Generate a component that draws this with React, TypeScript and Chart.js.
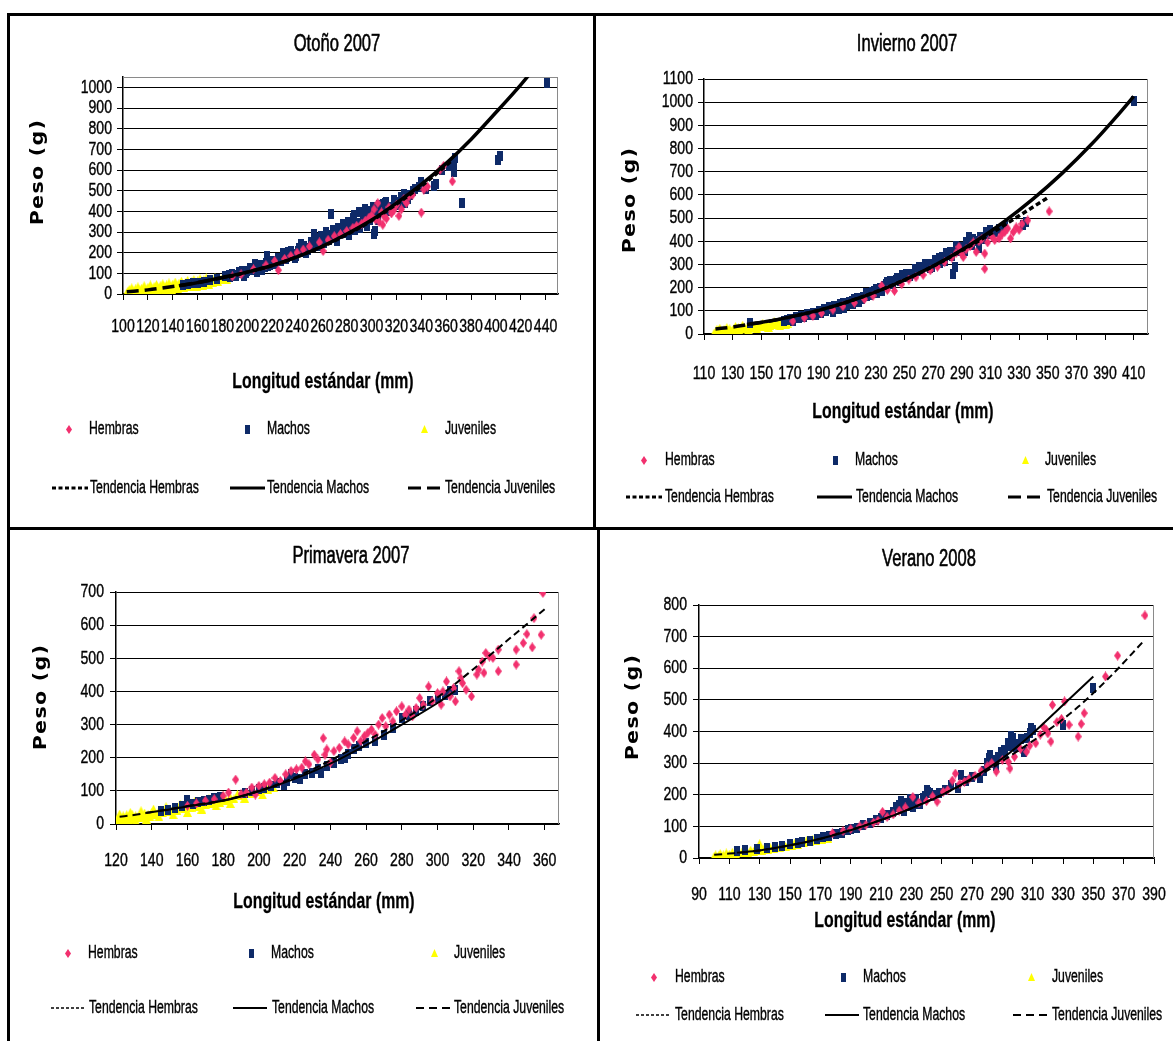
import React, { useEffect, useRef } from 'react';
import { Chart, registerables } from 'chart.js';
Chart.register(...registerables);

type Pt = [number, number];

// ---------- Otoño 2007 ----------
const otonoHembras: Pt[] = [[188,85],[195,95],[205,120],[215,140],[222,160],[225,115],[230,170],[235,185],[240,200],[245,215],[250,230],[258,250],[261,208],[265,262],[270,280],[275,290],[280,305],[285,320],[288,330],[292,340],[295,355],[298,370],[300,380],[302,410],[303,360],[305,440],[306,350],[308,395],[309,335],[310,375],[312,365],[314,420],[316,390],[318,405],[320,430],[322,378],[324,410],[326,460],[328,440],[330,470],[333,480],[340,394],[342,505],[345,520],[355,600],[358,620],[365,545]];
const otonoMachos: Pt[] = [[148,42],[152,48],[156,55],[160,52],[165,60],[170,68],[176,75],[182,85],[185,90],[186,80],[188,95],[190,92],[191,88],[193,105],[194,100],[196,112],[197,88],[199,100],[200,110],[202,125],[203,118],[205,115],[206,143],[207,130],[208,105],[210,140],[211,125],[212,118],[214,133],[215,150],[216,184],[217,135],[218,140],[219,160],[221,150],[222,145],[224,160],[225,175],[226,172],[227,160],[229,200],[230,185],[231,168],[232,178],[233,205],[235,210],[236,190],[237,195],[238,175],[239,185],[241,210],[242,225],[243,240],[244,205],[245,225],[246,230],[247,200],[248,222],[249,215],[251,250],[252,238],[253,228],[254,289],[255,270],[256,250],[257,240],[258,230],[259,280],[260,265],[261,255],[262,245],[263,300],[265,285],[266,260],[267,385],[268,270],[269,310],[270,300],[271,280],[272,255],[273,320],[274,290],[275,300],[276,310],[277,340],[278,295],[279,305],[280,320],[281,350],[282,285],[283,320],[284,335],[285,370],[286,380],[287,310],[288,330],[289,345],[290,395],[291,320],[292,345],[293,360],[294,375],[295,410],[296,330],[297,400],[298,380],[299,360],[300,390],[301,420],[302,290],[303,305],[304,395],[305,360],[306,430],[307,420],[308,400],[309,434],[311,440],[312,445],[313,400],[315,410],[316,420],[318,455],[320,445],[322,430],[324,470],[326,485],[327,442],[329,460],[331,480],[333,500],[335,510],[338,520],[340,540],[344,506],[350,523],[352,530],[357,600],[362,620],[366,640],[366,590],[367,660],[373,442],[402,650],[403,670],[441,1020]];
const otonoJuveniles: Pt[] = [[103,4],[104,14],[105,22],[106,8],[107,30],[108,16],[109,5],[110,25],[111,12],[112,35],[113,20],[114,8],[115,28],[116,15],[117,40],[118,22],[119,10],[120,32],[121,18],[122,44],[123,26],[124,12],[125,36],[126,22],[127,46],[128,30],[129,15],[130,40],[131,25],[132,50],[133,34],[134,18],[135,44],[136,28],[137,54],[138,38],[139,22],[140,48],[141,32],[142,58],[143,40],[144,26],[145,52],[146,36],[147,62],[148,45],[149,30],[150,56],[151,40],[152,66],[153,48],[154,34],[155,60],[156,44],[157,70],[158,52],[159,38],[160,64],[161,48],[162,74],[163,56],[164,42],[165,68],[166,52],[167,78],[168,60],[169,46],[170,72],[172,56],[174,80],[176,62],[178,70],[180,76],[183,72]];
const otonoTrendM: Pt[] = [[145,40],[160,55],[180,80],[200,106],[220,138],[240,180],[260,230],[280,290],[300,358],[320,440],[340,530],[360,632],[380,748],[400,878],[420,1012],[430,1085]];
const otonoTrendH: Pt[] = [[185,82],[200,106],[220,138],[240,180],[260,228],[280,287],[300,355],[320,435],[340,522],[365,648]];
const otonoTrendJ: Pt[] = [[103,11],[120,20],[140,36],[160,55],[185,85]];
const otonoXTicks = [100,120,140,160,180,200,220,240,260,280,300,320,340,360,380,400,420,440];
const otonoYTicks = [0,100,200,300,400,500,600,700,800,900,1000];

// ---------- Invierno 2007 ----------
const inviernoHembras: Pt[] = [[172,55],[180,70],[186,78],[192,90],[200,105],[207,120],[215,135],[222,150],[228,165],[234,208],[238,190],[243,186],[248,215],[253,235],[258,245],[263,255],[268,275],[273,290],[278,310],[283,330],[286,350],[288,376],[290,345],[291,332],[293,365],[296,380],[298,395],[300,354],[302,400],[304,410],[306,347],[306,281],[308,395],[311,420],[313,405],[316,412],[318,430],[320,440],[322,455],[324,412],[326,440],[328,460],[330,449],[332,475],[336,490],[351,529]];
const inviernoMachos: Pt[] = [[142,48],[166,55],[168,62],[170,65],[172,58],[174,72],[176,68],[178,78],[180,72],[182,85],[184,80],[186,92],[188,84],[190,98],[192,90],[194,108],[195,100],[197,115],[198,106],[200,95],[201,122],[203,120],[204,110],[205,130],[207,135],[208,114],[210,125],[211,140],[213,143],[214,130],[215,150],[217,155],[218,140],[220,150],[221,160],[223,175],[224,165],[226,170],[227,182],[229,186],[230,195],[231,175],[233,200],[234,185],[236,205],[237,215],[238,225],[240,230],[241,220],[242,215],[244,235],[245,240],[247,230],[248,255],[250,248],[251,260],[252,245],[254,250],[255,260],[257,280],[258,270],[260,288],[261,270],[262,275],[264,300],[265,295],[267,300],[268,285],[269,288],[271,320],[272,310],[274,330],[275,305],[276,332],[278,315],[279,350],[280,340],[282,355],[283,335],[284,259],[285,290],[286,380],[287,365],[289,360],[290,375],[292,360],[293,395],[295,420],[297,385],[298,410],[300,400],[302,369],[303,420],[305,410],[307,440],[308,430],[310,449],[313,440],[316,455],[320,465],[333,470],[335,485],[410,1005]];
const inviernoJuveniles: Pt[] = [[117,3],[118,5],[119,10],[119,20],[120,15],[121,8],[121,25],[122,12],[123,6],[124,18],[125,10],[126,28],[127,14],[128,22],[129,9],[130,16],[131,25],[132,33],[133,19],[134,28],[135,12],[136,22],[137,38],[138,30],[140,25],[141,18],[142,33],[143,42],[144,28],[146,36],[147,22],[148,31],[150,38],[151,46],[152,34],[154,42],[155,28],[156,37],[158,45],[159,52],[160,40],[162,48],[163,35],[164,44],[165,55],[166,50],[167,40],[168,46]];
const inviernoTrendM: Pt[] = [[140,41],[160,61],[180,87],[200,119],[220,159],[240,206],[260,262],[280,327],[300,401],[320,487],[340,584],[360,693],[380,815],[400,952],[410,1025]];
const inviernoTrendH: Pt[] = [[170,74],[190,102],[210,138],[230,182],[250,233],[270,292],[290,360],[310,432],[330,510],[350,588]];
const inviernoTrendJ: Pt[] = [[118,22],[130,30],[140,40],[150,50],[160,60],[168,70]];
const inviernoXTicks = [110,130,150,170,190,210,230,250,270,290,310,330,350,370,390,410];
const inviernoYTicks = [0,100,200,300,400,500,600,700,800,900,1000,1100];

// ---------- Primavera 2007 ----------
const primaveraHembras: Pt[] = [[160,55],[165,62],[170,70],[175,75],[180,85],[183,95],[187,134],[190,90],[193,95],[196,110],[198,89],[200,115],[203,120],[206,125],[209,139],[212,130],[215,150],[218,160],[221,165],[224,170],[226,189],[228,180],[231,209],[233,195],[236,259],[237,209],[238,225],[240,185],[242,220],[245,230],[248,249],[250,240],[253,260],[255,280],[257,250],[259,265],[261,275],[263,285],[265,270],[267,300],[269,320],[271,295],[273,330],[275,310],[277,340],[280,355],[282,330],[284,345],[286,325],[288,350],[290,380],[292,360],[295,415],[297,370],[300,395],[302,360],[303,400],[305,430],[307,385],[309,410],[310,370],[312,461],[313,440],[314,425],[316,405],[319,385],[322,451],[323,466],[325,490],[326,456],[327,516],[329,505],[331,501],[334,461],[334,526],[344,481],[344,526],[348,546],[350,573],[353,533],[354,621],[358,571],[359,697]];
const primaveraMachos: Pt[] = [[145,40],[149,43],[153,48],[157,55],[160,73],[163,60],[166,65],[169,70],[172,73],[175,78],[178,82],[192,95],[196,100],[200,105],[203,109],[207,115],[210,125],[214,119],[216,129],[218,150],[220,140],[223,135],[226,150],[230,154],[233,165],[235,154],[238,175],[242,185],[246,195],[248,199],[250,210],[253,225],[256,235],[260,245],[265,249],[270,270],[275,290],[280,320],[284,330],[288,340],[292,355],[296,370],[300,380],[304,390],[307,400],[310,405]];
const primaveraJuveniles: Pt[] = [[121,12],[122,20],[122,30],[123,15],[124,25],[125,18],[125,8],[126,28],[127,14],[128,22],[128,35],[129,30],[130,18],[131,25],[131,10],[133,20],[134,30],[134,40],[135,24],[136,33],[137,15],[138,28],[139,22],[140,35],[141,45],[142,30],[144,38],[144,22],[146,34],[148,42],[148,52],[150,38],[152,46],[152,28],[154,42],[156,50],[156,60],[158,46],[160,55],[160,35],[162,50],[164,58],[164,68],[166,54],[168,62],[168,45],[170,58],[172,66],[172,76],[174,62],[176,70],[176,55],[178,66],[180,74],[180,85],[182,70],[184,80],[184,62],[186,76],[188,90],[190,85],[192,78],[195,92],[197,100],[200,98],[202,88],[205,105],[206,115],[208,110]];
const primaveraTrendM: Pt[] = [[137,34],[150,44],[160,53],[180,70],[200,99],[220,136],[240,182],[260,238],[280,300],[300,365],[310,402]];
const primaveraTrendH: Pt[] = [[160,54],[180,71],[200,100],[220,140],[240,192],[260,250],[280,313],[300,382],[320,467],[340,558],[360,648]];
const primaveraTrendJ: Pt[] = [[122,22],[130,27],[140,36],[160,54],[180,71],[200,99],[210,115]];
const primaveraXTicks = [120,140,160,180,200,220,240,260,280,300,320,340,360];
const primaveraYTicks = [0,100,200,300,400,500,600,700];

// ---------- Verano 2008 ----------
const veranoHembras: Pt[] = [[178,78],[185,85],[190,92],[196,100],[200,105],[205,112],[208,118],[211,146],[214,130],[218,138],[222,150],[226,160],[231,193],[235,175],[240,180],[244,195],[247,178],[251,209],[254,215],[257,245],[259,267],[262,235],[265,241],[268,250],[272,260],[276,275],[280,290],[283,300],[286,273],[290,310],[294,304],[295,283],[298,320],[302,345],[306,336],[308,355],[312,363],[315,390],[317,415],[319,405],[320,394],[322,368],[323,484],[326,430],[329,440],[331,495],[334,421],[340,384],[342,424],[344,458],[358,574],[366,640],[384,767]];
const veranoMachos: Pt[] = [[115,22],[120,24],[128,28],[135,32],[140,35],[145,38],[150,45],[155,48],[158,51],[163,55],[168,60],[172,65],[176,70],[180,76],[184,80],[188,88],[190,93],[194,95],[198,105],[203,110],[207,119],[210,125],[214,135],[218,145],[220,160],[222,167],[223,180],[225,150],[226,175],[228,165],[229,185],[231,162],[232,170],[233,185],[236,170],[238,190],[239,195],[240,215],[241,209],[242,205],[244,200],[245,195],[248,205],[252,215],[256,230],[261,220],[263,262],[266,245],[270,255],[275,252],[278,275],[280,300],[281,315],[282,325],[283,300],[284,310],[286,290],[287,320],[289,336],[291,340],[292,330],[294,365],[295,355],[296,385],[297,378],[299,350],[300,360],[302,375],[304,336],[306,380],[308,395],[309,410],[310,405],[330,421],[350,537]];
const veranoJuveniles: Pt[] = [[100,5],[101,10],[103,8],[104,14],[106,10],[108,16],[110,12],[112,18],[114,14],[116,20],[118,16],[120,22],[122,18],[124,25],[126,21],[128,28],[130,45],[131,24],[133,30],[135,27],[137,33],[139,30],[141,36],[143,33],[145,40],[147,36],[149,43],[151,40],[153,47],[155,44],[157,51],[159,48],[161,55],[163,52],[165,59],[167,56],[169,63],[171,60],[173,66],[175,62]];
const veranoTrendM: Pt[] = [[115,17],[130,24],[150,40],[170,61],[190,88],[210,120],[230,157],[250,199],[270,252],[290,315],[310,394],[330,484],[350,574]];
const veranoTrendH: Pt[] = [[178,72],[200,104],[220,138],[240,178],[260,223],[280,276],[300,338],[320,403],[340,478],[360,568],[384,690]];
const veranoTrendJ: Pt[] = [[100,10],[110,14],[120,18],[130,24],[140,31],[150,40],[160,50],[175,66]];
const veranoXTicks = [90,110,130,150,170,190,210,230,250,270,290,310,330,350,370,390];
const veranoYTicks = [0,100,200,300,400,500,600,700,800];

const SERIES_LABELS = ['Hembras', 'Machos', 'Juveniles'];
const TREND_LABELS = ['Tendencia Hembras', 'Tendencia Machos', 'Tendencia Juveniles'];
const X_TITLE = 'Longitud estándar (mm)';
const Y_TITLE = 'Peso (g)';

const PINK = '#F2306E';
const NAVY = '#0E2A68';
const YELLOW = '#FFFF00';
const SANS = '"Liberation Sans", Arial, sans-serif';
const WIDE = '"DejaVu Sans", Verdana, sans-serif';
const Y_AXIS_W = 60;
const X_AXIS_H = 50;

interface Panel {
  title: string;
  hembras: Pt[]; machos: Pt[]; juveniles: Pt[];
  trendH: Pt[]; trendM: Pt[]; trendJ: Pt[];
  xMin: number; xMax: number; yMax: number;
  xTicks: number[]; yTicks: number[];
  box: { x: number; y: number; w: number; h: number };
  area: { l: number; r: number; t: number; b: number };
  titlePos: Pt; xTitlePos: Pt; yTitlePos: Pt;
  xLabelY: number; yLabelRight: number;
  thick: boolean;
  lg: { y1: number; y2: number; mx: number[]; tx1: number[]; lines: Pt[]; tx2: number[] };
}

const PANELS: Panel[] = [
  {
    title: 'Otoño 2007', hembras: otonoHembras, machos: otonoMachos, juveniles: otonoJuveniles,
    trendH: otonoTrendH, trendM: otonoTrendM, trendJ: otonoTrendJ,
    xMin: 100, xMax: 450, yMax: 1050, xTicks: otonoXTicks, yTicks: otonoYTicks,
    box: { x: 10, y: 16, w: 583, h: 511 }, area: { l: 123, r: 558, t: 77, b: 294 },
    titlePos: [337, 45], xTitlePos: [323, 382], yTitlePos: [39, 172], xLabelY: 327, yLabelRight: 112, thick: true,
    lg: { y1: 429, y2: 488, mx: [69, 247, 424], tx1: [89, 267, 445], lines: [[52, 88], [230, 265], [408, 442]], tx2: [90, 267, 445] },
  },
  {
    title: 'Invierno 2007', hembras: inviernoHembras, machos: inviernoMachos, juveniles: inviernoJuveniles,
    trendH: inviernoTrendH, trendM: inviernoTrendM, trendJ: inviernoTrendJ,
    xMin: 110, xMax: 420, yMax: 1100, xTicks: inviernoXTicks, yTicks: inviernoYTicks,
    box: { x: 596, y: 16, w: 577, h: 511 }, area: { l: 704, r: 1148, t: 79, b: 334 },
    titlePos: [907, 45], xTitlePos: [903, 412], yTitlePos: [631, 200], xLabelY: 374, yLabelRight: 693, thick: true,
    lg: { y1: 460, y2: 497, mx: [644, 835, 1025], tx1: [665, 855, 1045], lines: [[626, 662], [817, 852], [1008, 1042]], tx2: [665, 856, 1047] },
  },
  {
    title: 'Primavera 2007', hembras: primaveraHembras, machos: primaveraMachos, juveniles: primaveraJuveniles,
    trendH: primaveraTrendH, trendM: primaveraTrendM, trendJ: primaveraTrendJ,
    xMin: 120, xMax: 368, yMax: 700, xTicks: primaveraXTicks, yTicks: primaveraYTicks,
    box: { x: 10, y: 530, w: 587, h: 511 }, area: { l: 116, r: 559, t: 592, b: 824 },
    titlePos: [351, 557], xTitlePos: [324, 902], yTitlePos: [42, 697], xLabelY: 861, yLabelRight: 104, thick: false,
    lg: { y1: 953, y2: 1008, mx: [68, 251, 434], tx1: [88, 271, 454], lines: [[51, 84], [233, 267], [416, 450]], tx2: [89, 272, 454] },
  },
  {
    title: 'Verano 2008', hembras: veranoHembras, machos: veranoMachos, juveniles: veranoJuveniles,
    trendH: veranoTrendH, trendM: veranoTrendM, trendJ: veranoTrendJ,
    xMin: 90, xMax: 390, yMax: 800, xTicks: veranoXTicks, yTicks: veranoYTicks,
    box: { x: 600, y: 530, w: 573, h: 511 }, area: { l: 699, r: 1154, t: 605, b: 858 },
    titlePos: [929, 560], xTitlePos: [905, 921], yTitlePos: [634, 707], xLabelY: 895, yLabelRight: 687, thick: false,
    lg: { y1: 977, y2: 1015, mx: [654, 843, 1031], tx1: [675, 863, 1052], lines: [[636, 671], [825, 859], [1013, 1048]], tx2: [675, 863, 1052] },
  },
];

function makeMarker(kind: 'diamond' | 'rect' | 'triangle', color: string, w: number, h: number) {
  const c = document.createElement('canvas');
  c.width = w; c.height = h;
  const g = c.getContext('2d')!;
  g.fillStyle = color;
  if (kind === 'rect') { g.fillRect(0, 0, w, h); return c; }
  g.beginPath();
  if (kind === 'diamond') { g.moveTo(w / 2, 0); g.lineTo(w, h / 2); g.lineTo(w / 2, h); g.lineTo(0, h / 2); }
  else { g.moveTo(w / 2, 0); g.lineTo(w, h); g.lineTo(0, h); }
  g.closePath(); g.fill();
  return c;
}

// text squeezed horizontally (narrow face emulation), with a light stroke for weight
function drawText(ctx: CanvasRenderingContext2D, text: string, x: number, y: number, font: string, sx: number, align: CanvasTextAlign, weight = 0.5) {
  ctx.save();
  ctx.font = font;
  ctx.textAlign = align;
  ctx.textBaseline = 'middle';
  ctx.fillStyle = '#000';
  ctx.strokeStyle = '#000';
  ctx.lineWidth = weight;
  ctx.translate(x, y);
  ctx.scale(sx, 1);
  ctx.fillText(text, 0, 0);
  if (weight > 0) ctx.strokeText(text, 0, 0);
  ctx.restore();
}

function ChartPanel({ p }: { p: Panel }) {
  const ref = useRef<HTMLCanvasElement>(null);
  useEffect(() => {
    const canvas = ref.current!;
    const mkPlot = [makeMarker('diamond', PINK, 7, 10), makeMarker('rect', NAVY, 6, 10), makeMarker('triangle', YELLOW, 9, 9)];
    const mkLegend = [makeMarker('diamond', PINK, 6, 9), makeMarker('rect', NAVY, 5, 9), makeMarker('triangle', YELLOW, 7, 8)];
    const lw = p.thick ? 3.5 : 2;
    const dashH = p.thick ? [5, 3] : [7, 4];
    const dashJ = p.thick ? [12, 6] : [8, 5];
    const legendDash = p.thick ? [[4, 2.5], [], [13, 6]] : [[3, 2], [], [8, 5]];
    const legendLw = p.thick ? [3, 3, 3] : [1.5, 2, 2];
    const toXY = (a: Pt[]) => a.map(([x, y]) => ({ x, y }));
    const ox = p.box.x, oy = p.box.y;

    const decor = {
      id: 'decor',
      beforeDatasetsDraw(chart: any) {
        const { ctx, chartArea: a } = chart;
        ctx.save();
        ctx.strokeStyle = '#8a8a8a';
        ctx.lineWidth = 1;
        ctx.beginPath();
        ctx.moveTo(a.right - 0.5, a.top);
        ctx.lineTo(a.right - 0.5, a.bottom);
        if (!p.yTicks.includes(p.yMax)) { ctx.moveTo(a.left, a.top + 0.5); ctx.lineTo(a.right, a.top + 0.5); }
        ctx.stroke();
        ctx.restore();
      },
      afterDraw(chart: any) {
        const ctx: CanvasRenderingContext2D = chart.ctx;
        const xs = chart.scales.x, ys = chart.scales.y;
        // tick labels positioned by the chart's scales
        const tickFont = `19px ${SANS}`;
        p.xTicks.forEach((v) => drawText(ctx, String(v), xs.getPixelForValue(v), p.xLabelY - oy, tickFont, 0.74, 'center', 0.4));
        p.yTicks.forEach((v) => drawText(ctx, String(v), p.yLabelRight - ox, ys.getPixelForValue(v), tickFont, 0.74, 'right', 0.4));
        // titles
        drawText(ctx, p.title, p.titlePos[0] - ox, p.titlePos[1] - oy, `23px ${SANS}`, 0.72, 'center', 0.6);
        drawText(ctx, X_TITLE, p.xTitlePos[0] - ox, p.xTitlePos[1] - oy, `bold 22px ${SANS}`, 0.72, 'center', 0.3);
        ctx.save();
        ctx.translate(p.yTitlePos[0] - ox, p.yTitlePos[1] - oy);
        ctx.rotate(-Math.PI / 2);
        ctx.scale(1.22, 1);
        ctx.font = `bold 17px ${WIDE}`;
        (ctx as any).letterSpacing = '1px';
        ctx.textAlign = 'center';
        ctx.textBaseline = 'middle';
        ctx.fillStyle = '#000';
        ctx.fillText(Y_TITLE, 0, 0);
        ctx.restore();
        // legend
        const lgFont = `18px ${SANS}`;
        for (let i = 0; i < 3; i++) {
          const m = mkLegend[i];
          ctx.drawImage(m, Math.round(p.lg.mx[i] - ox - m.width / 2), Math.round(p.lg.y1 - oy - m.height / 2));
          drawText(ctx, SERIES_LABELS[i], p.lg.tx1[i] - ox, p.lg.y1 - oy, lgFont, 0.68, 'left', 0.4);
          ctx.save();
          ctx.beginPath();
          ctx.setLineDash(legendDash[i]);
          ctx.lineWidth = legendLw[i];
          ctx.strokeStyle = '#000';
          ctx.moveTo(p.lg.lines[i][0] - ox, p.lg.y2 - oy);
          ctx.lineTo(p.lg.lines[i][1] - ox, p.lg.y2 - oy);
          ctx.stroke();
          ctx.restore();
          drawText(ctx, TREND_LABELS[i], p.lg.tx2[i] - ox, p.lg.y2 - oy, lgFont, 0.68, 'left', 0.4);
        }
      },
    };

    const chart = new Chart(canvas, {
      type: 'scatter',
      data: {
        datasets: [
          { label: TREND_LABELS[1], data: toXY(p.trendM), showLine: true, borderColor: '#000', borderWidth: lw, pointRadius: 0, cubicInterpolationMode: 'monotone' } as any,
          { label: TREND_LABELS[0], data: toXY(p.trendH), showLine: true, borderColor: '#000', borderWidth: lw, borderDash: dashH, pointRadius: 0, cubicInterpolationMode: 'monotone' },
          { label: TREND_LABELS[2], data: toXY(p.trendJ), showLine: true, borderColor: '#000', borderWidth: lw, borderDash: dashJ, pointRadius: 0, cubicInterpolationMode: 'monotone' },
          { label: SERIES_LABELS[0], data: toXY(p.hembras), pointStyle: mkPlot[0], pointRadius: 4, backgroundColor: PINK, borderColor: PINK },
          { label: SERIES_LABELS[1], data: toXY(p.machos), pointStyle: mkPlot[1], pointRadius: 4, backgroundColor: NAVY, borderColor: NAVY },
          { label: SERIES_LABELS[2], data: toXY(p.juveniles), pointStyle: mkPlot[2], pointRadius: 4, backgroundColor: YELLOW, borderColor: YELLOW },
        ],
      },
      options: {
        animation: false,
        responsive: false,
        devicePixelRatio: 1,
        events: [],
        layout: {
          padding: {
            left: p.area.l - p.box.x - Y_AXIS_W,
            right: p.box.x + p.box.w - p.area.r,
            top: p.area.t - p.box.y,
            bottom: p.box.y + p.box.h - p.area.b - X_AXIS_H,
          },
        },
        plugins: { legend: { display: false }, tooltip: { enabled: false }, title: { display: false } },
        scales: {
          x: {
            type: 'linear', min: p.xMin, max: p.xMax,
            afterBuildTicks: (s: any) => { s.ticks = p.xTicks.map((v) => ({ value: v })); },
            afterFit: (s: any) => { s.height = X_AXIS_H; },
            grid: { drawOnChartArea: false, drawTicks: true, tickLength: 6, color: '#000', lineWidth: 1 },
            border: { display: true, color: '#000', width: 1.5 },
            ticks: { display: false, autoSkip: false, maxRotation: 0, minRotation: 0 },
          },
          y: {
            type: 'linear', min: 0, max: p.yMax,
            afterBuildTicks: (s: any) => { s.ticks = p.yTicks.map((v) => ({ value: v })); },
            afterFit: (s: any) => { s.width = Y_AXIS_W; },
            grid: { drawTicks: true, tickLength: 6, color: '#000', lineWidth: 1 },
            border: { display: true, color: '#000', width: 1.5 },
            ticks: { display: false, autoSkip: false },
          },
        },
      },
      plugins: [decor],
    } as any);
    return () => chart.destroy();
  }, [p]);
  return (
    <canvas
      ref={ref}
      width={p.box.w}
      height={p.box.h}
      style={{ position: 'absolute', left: p.box.x, top: p.box.y, width: p.box.w, height: p.box.h }}
    />
  );
}

const LINE = '#000';
const borders = [
  { left: 7, top: 13, width: 1166, height: 3 },
  { left: 7, top: 13, width: 3, height: 1028 },
  { left: 7, top: 527, width: 1166, height: 3 },
  { left: 593, top: 13, width: 3, height: 517 },
  { left: 597, top: 527, width: 3, height: 514 },
];

export default function App() {
  return (
    <div style={{ position: 'absolute', left: 0, top: 0, width: 1173, height: 1041, background: '#fff', overflow: 'hidden' }}>
      {PANELS.map((p) => <ChartPanel key={p.title} p={p} />)}
      {borders.map((b, i) => (
        <div key={i} style={{ position: 'absolute', background: LINE, ...b }} />
      ))}
    </div>
  );
}
